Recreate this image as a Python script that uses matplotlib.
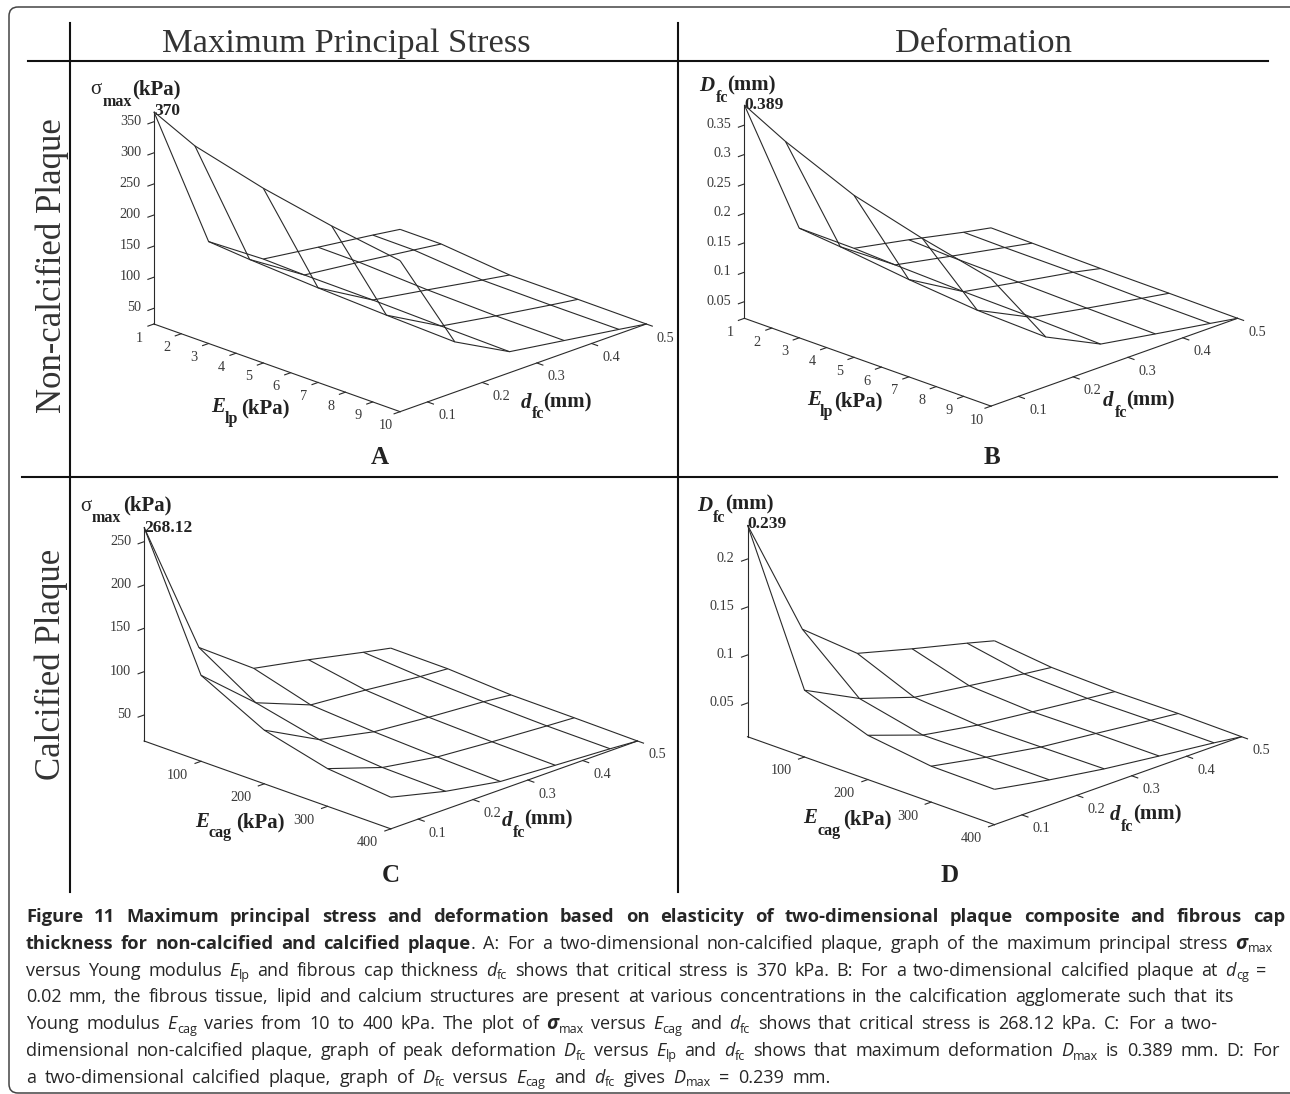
import re
import numpy as np
import matplotlib
matplotlib.use('Agg')
import matplotlib.pyplot as plt
from matplotlib.patches import FancyBboxPatch
from mpl_toolkits.mplot3d import proj3d

# fibrous cap thickness and the two elasticity axes
d_fc = [0.05, 0.15, 0.25, 0.35, 0.45, 0.5]
e_lp = [1, 2.5, 5, 7.5, 10]
e_cag = [10, 100, 200, 300, 400]

# surfaces, one row per d_fc value, one column per elasticity value
stress_noncalc = [[366, 334.6, 305.7, 284.2, 267.6],
                  [126, 120.7, 114.3, 109.5, 105.7],
                  [66.6, 64.5, 63.4, 60.7, 58.6],
                  [54.3, 53.7, 48.4, 45.7, 45.2],
                  [42.5, 42, 32.8, 31.8, 31.8],
                  [36, 36, 25.3, 25.3, 24.8]]
deform_noncalc = [[0.384, 0.347, 0.297, 0.265, 0.2385],
                  [0.1417, 0.135, 0.1208, 0.110, 0.106],
                  [0.0743, 0.071, 0.067, 0.0647, 0.0608],
                  [0.0557, 0.0523, 0.050, 0.0472, 0.0449],
                  [0.0353, 0.0342, 0.0336, 0.0308, 0.0296],
                  [0.0262, 0.0251, 0.0234, 0.0228, 0.0217]]
stress_calc = [[266.5, 119.2, 81.9, 63.5, 56.5],
               [105.4, 65, 48.5, 42.3, 40.8],
               [58.8, 40, 35, 31.9, 29.6],
               [46.2, 34.6, 29.2, 26.9, 25.8],
               [32.3, 27.7, 24.6, 22.7, 22.3],
               [25.8, 25.4, 21.2, 20.8, 20]]
deform_calc = [[0.2354, 0.0845, 0.0610, 0.0523, 0.0517],
               [0.1065, 0.0555, 0.0409, 0.0413, 0.0412],
               [0.0610, 0.0364, 0.0309, 0.0316, 0.0323],
               [0.0454, 0.0281, 0.0244, 0.0253, 0.0253],
               [0.0309, 0.0201, 0.0180, 0.0187, 0.0187],
               [0.0232, 0.0166, 0.0149, 0.0156, 0.0149]]

stress_nc_ticks = [50, 100, 150, 200, 250, 300, 350]
deform_nc_ticks = [0.05, 0.1, 0.15, 0.2, 0.25, 0.3, 0.35]
stress_c_ticks = [50, 100, 150, 200, 250]
deform_c_ticks = [0.05, 0.1, 0.15, 0.2]
e_lp_ticks = [1, 2, 3, 4, 5, 6, 7, 8, 9, 10]
e_cag_ticks = [100, 200, 300, 400]
d_ticks = [0.1, 0.2, 0.3, 0.4, 0.5]

W, H = 1290, 1094
SERIF = 'Liberation Serif'
SANS = 'Open Sans'
INK = '#222222'
ELEV = 20.86

fig = plt.figure(figsize=(W / 100, H / 100), dpi=100)
bg = fig.add_axes([0, 0, 1, 1])
bg.set_xlim(0, W)
bg.set_ylim(H, 0)
bg.axis('off')

# frame and table rules
bg.add_patch(FancyBboxPatch((9, 7), 1292, 1086, boxstyle='round,pad=0,rounding_size=9',
                            fc='none', ec='#444444', lw=1.1, clip_on=True))
bg.plot([70, 70], [23, 892], color='#111111', lw=1.5)
bg.plot([678, 678], [23, 892], color='#111111', lw=1.5)
bg.plot([28, 1268], [61, 61], color='#111111', lw=1.5)
bg.plot([22, 1277], [476.5, 476.5], color='#111111', lw=1.5)

bg.text(346.5, 44, 'Maximum Principal Stress', family=SERIF, fontsize=24.8, color='#333333', ha='center', va='center')
bg.text(983, 44, 'Deformation', family=SERIF, fontsize=24.8, color='#333333', ha='center', va='center')
bg.text(52, 266, 'Non-calcified Plaque', family=SERIF, fontsize=25, color='#333333', rotation=90, ha='center', va='center')
bg.text(51, 664, 'Calcified Plaque', family=SERIF, fontsize=25, color='#333333', rotation=90, ha='center', va='center')


def lab(x, y, s, size, weight='bold', style='normal'):
    bg.text(x, y, s, family=SERIF, fontsize=size, fontweight=weight, fontstyle=style, color=INK, ha='left', va='center')


def axis_title(x, y, head, sub, tail, head_style='italic'):
    # head letter, subscript, unit, each placed on its own
    weight = 'normal' if head == '\u03c3' else 'bold'
    lab(x[0], y[0], head, 15, weight, head_style)
    lab(x[1], y[1], sub, 11.5)
    lab(x[2], y[2], tail, 15)


def panel(x0, y0, sx, zpx, E, Z, ticks_e, ticks_z, ex):
    Z = np.array(Z)
    z0, z1 = Z.min(), Z.max()
    d0, d1 = d_fc[0], d_fc[-1]
    zspan = zpx * (z1 - z0)
    # screen length of a box edge is sx*sqrt(2)
    box = zspan / (sx * np.sqrt(2) * np.cos(np.radians(ELEV)))

    ax = fig.add_axes([0.3, 0.3, 0.4, 0.4 * W / H], projection='3d', proj_type='ortho')
    ax.view_init(elev=ELEV, azim=-45)
    ax.set_xlim(E[0], E[-1], view_margin=0)
    ax.set_ylim(d0, d1, view_margin=0)
    ax.set_zlim(z0, z1, view_margin=0)
    ax.set_box_aspect((1, 1, box))
    ax.set_axis_off()
    ax.patch.set_visible(False)

    X, Y = np.meshgrid(E, d_fc)
    wf = ax.plot_wireframe(X, Y, Z, color='#2a2a2a', linewidth=0.8)
    wf.set_clip_on(False)

    def line(xs, ys, zs):
        ax.plot(xs, ys, zs, color='#2a2a2a', lw=0.8, clip_on=False)

    def to_px(e, d, z):
        xs, ys, _ = proj3d.proj_transform(np.atleast_1d(e), np.atleast_1d(d), np.atleast_1d(z), ax.get_proj())
        return ax.transData.transform(np.column_stack([xs, ys]))

    # axis lines
    line([E[0], E[0]], [d0, d0], [z0, z1])
    line([E[0], E[-1]], [d0, d0], [z0, z0])
    line([E[-1], E[-1]], [d0, d1], [z0, z0])

    tick_d = 6 / sx * (d1 - d0)
    tick_e = 6 / sx * (E[-1] - E[0])
    labels = []
    for t in ticks_z:
        line([E[0], E[0]], [d0, d0 - tick_d], [t, t])
        labels.append((E[0], d0, t, str(t), -13, -0.5, 'right'))
    for t in ticks_e:
        line([t, t], [d0, d0 - tick_d], [z0, z0])
        labels.append((t, d0, z0, str(t), ex, 14, 'center'))
    for t in d_ticks:
        line([E[-1], E[-1] + tick_e], [t, t], [z0, z0])
        labels.append((E[-1], t, z0, str(t), 19.5, 14, 'center'))

    # move and size the axes until the corners land on their target pixels
    side = 500.0
    cx, cy = 0.5, 0.5
    for i in range(5):
        ax.set_position([cx - side / W / 2, cy - side / H / 2, side / W, side / H])
        fig.canvas.draw()
        p = to_px([E[0], E[-1]], [d0, d1], [z0, z0])
        scale = 2 * sx / (p[1, 0] - p[0, 0])
        side *= scale
        c = np.array([cx * W, cy * H])
        p0 = c + (p[0] - c) * scale
        cx += (x0 - p0[0]) / W
        cy += ((H - y0) - p0[1]) / H
    ax.set_position([cx - side / W / 2, cy - side / H / 2, side / W, side / H])
    fig.canvas.draw()

    # tick labels go on the flat axes, at the projected place of their tick
    for e, d, z, s, dx, dy, ha in labels:
        p = to_px(e, d, z)[0]
        bg.text(p[0] + dx, H - p[1] + dy, s, family=SERIF, fontsize=10.3, color='#3a3a3a', ha=ha, va='center')
    return ax


panel(153.9, 324, 246.2, 31.1 / 50, e_lp, stress_noncalc, e_lp_ticks, stress_nc_ticks, -14.5)
panel(744.4, 318.3, 246.6, 29.43 / 0.05, e_lp, deform_noncalc, e_lp_ticks, deform_nc_ticks, -14.5)
panel(144.1, 741, 246.7, 43.33 / 50, e_cag, stress_calc, e_cag_ticks, stress_c_ticks, -23.4)
panel(747.5, 736.7, 247, 48 / 0.05, e_cag, deform_calc, e_cag_ticks, deform_c_ticks, -23.4)

# axis titles and peak values
axis_title((90, 103, 132), (90, 102, 89), '\u03c3', 'max', '(kPa)', 'normal')
axis_title((699.5, 716, 727.6), (86, 98, 85), 'D', 'fc', '(mm)')
axis_title((79.8, 92, 122.7), (506.7, 518, 505), '\u03c3', 'max', '(kPa)', 'normal')
axis_title((696.8, 713, 724.9), (506, 517.7, 504.3), 'D', 'fc', '(mm)')

axis_title((211, 225, 240.8), (406.7, 419.3, 408.3), 'E', 'lp', '(kPa)')
axis_title((520.5, 532, 543.6), (403, 414, 402), 'd', 'fc', '(mm)')
axis_title((806.8, 819.6, 834), (400, 412, 401), 'E', 'lp', '(kPa)')
axis_title((1103, 1115, 1126.6), (401, 413, 400.7), 'd', 'fc', '(mm)')
axis_title((194.8, 208.5, 235.8), (821.7, 833.3, 822.7), 'E', 'cag', '(kPa)')
axis_title((501.7, 512.7, 524.4), (820.7, 832.7, 819.3), 'd', 'fc', '(mm)')
axis_title((802.9, 817.3, 843), (818.3, 830.7, 819.3), 'E', 'cag', '(kPa)')
axis_title((1110, 1120.7, 1133.6), (815, 826.7, 814.3), 'd', 'fc', '(mm)')

lab(154, 111, '370', 12.5)
lab(744.4, 105, '0.389', 12.5)
lab(144, 528, '268.12', 12.5)
lab(747, 524, '0.239', 12.5)

for x, y, s in [(380, 458, 'A'), (992, 458, 'B'), (390.6, 875, 'C'), (950, 875, 'D')]:
    bg.text(x, y, s, family=SERIF, fontsize=18, fontweight='bold', color=INK, ha='center', va='center')

# caption, runs are (text, kind) with r regular, b bold, i italic, s subscript, g bold italic greek
caption = [
    (1277, [('Figure 11 Maximum principal stress and deformation based on elasticity of two-dimensional plaque composite and fibrous cap', 'b')]),
    (1263, [('thickness for non-calcified and calcified plaque', 'b'), ('. A: For a two-dimensional non-calcified plaque, graph of the maximum principal stress ', 'r'), ('\u03c3', 'g'), ('max', 's')]),
    (1253, [('versus Young modulus ', 'r'), ('E', 'i'), ('lp', 's'), (' and fibrous cap thickness ', 'r'), ('d', 'i'), ('fc', 's'), (' shows that critical stress is 370 kPa. B: For a two-dimensional calcified plaque at ', 'r'), ('d', 'i'), ('cg', 's'), (' =', 'r')]),
    (1224, [('0.02 mm, the fibrous tissue, lipid and calcium structures are present at various concentrations in the calcification agglomerate such that its', 'r')]),
    (1202, [('Young modulus ', 'r'), ('E', 'i'), ('cag', 's'), (' varies from 10 to 400 kPa. The plot of ', 'r'), ('\u03c3', 'g'), ('max', 's'), (' versus ', 'r'), ('E', 'i'), ('cag', 's'), (' and ', 'r'), ('d', 'i'), ('fc', 's'), (' shows that critical stress is 268.12 kPa. C: For a two-', 'r')]),
    (1267, [('dimensional non-calcified plaque, graph of peak deformation ', 'r'), ('D', 'i'), ('fc', 's'), (' versus ', 'r'), ('E', 'i'), ('lp', 's'), (' and ', 'r'), ('d', 'i'), ('fc', 's'), (' shows that maximum deformation ', 'r'), ('D', 'i'), ('max', 's'), (' is 0.389 mm. D: For', 'r')]),
    (821, [('a two-dimensional calcified plaque, graph of ', 'r'), ('D', 'i'), ('fc', 's'), (' versus ', 'r'), ('E', 'i'), ('cag', 's'), (' and ', 'r'), ('d', 'i'), ('fc', 's'), (' gives ', 'r'), ('D', 'i'), ('max', 's'), (' = 0.239 mm.', 'r')]),
]
KINDS = {'r': dict(fontsize=13),
         'b': dict(fontsize=13.2, fontweight='bold'),
         'i': dict(fontsize=13, fontstyle='italic'),
         's': dict(fontsize=9),
         'g': dict(fontsize=14, fontweight='bold', fontstyle='italic')}

renderer = fig.canvas.get_renderer()


def width(s, kind):
    t = bg.text(0, 0, s, family=SANS, **KINDS[kind])
    w = t.get_window_extent(renderer).width
    t.remove()
    return w


for n, (right, runs) in enumerate(caption):
    base = 922 + n * 26.8
    parts = []
    for s, kind in runs:
        for seg in re.findall(r'\S+|\s+', s):
            parts.append((seg, kind))
    words = [(s, k, width(s, k)) for s, k in parts if s.strip()]
    ngaps = len(parts) - len(words)
    gap = (right - 26 - sum(w[2] for w in words)) / ngaps
    x = 26
    for s, kind in parts:
        if not s.strip():
            x += gap
            continue
        dy = 3.5 if kind == 's' else 0
        bg.text(x, base + dy, s, family=SANS, color='#262626', va='baseline', ha='left', **KINDS[kind])
        x += width(s, kind) + 0.5

fig.savefig('out.png', dpi=100)
